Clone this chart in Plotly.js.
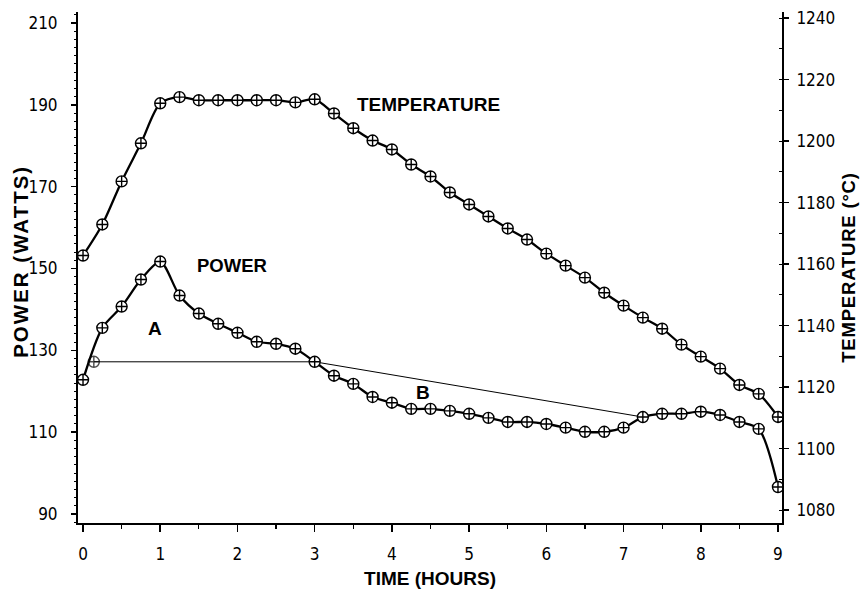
<!DOCTYPE html>
<html>
<head>
<meta charset="utf-8">
<script src="https://cdn.plot.ly/plotly-3.0.1.min.js"></script>
<style>
html,body{margin:0;padding:0;background:#fff;}
g.annotation[data-index="4"] text{letter-spacing:2px;}
.g-y2title text{letter-spacing:0.8px;}
</style>
</head>
<body>
<div id="chart" style="width:861px;height:591px;"></div>
<script>
// Time (hours), every quarter hour
const time = [0,0.25,0.5,0.75,1,1.25,1.5,1.75,2,2.25,2.5,2.75,3,3.25,3.5,3.75,4,4.25,4.5,4.75,5,5.25,5.5,5.75,6,6.25,6.5,6.75,7,7.25,7.5,7.75,8,8.25,8.5,8.75,9];
// Power (watts), left axis
const power = [122.8,135.5,140.7,147.3,151.7,143.4,139.0,136.5,134.3,132.1,131.6,130.4,127.2,123.8,121.8,118.6,117.2,115.7,115.7,115.2,114.5,113.5,112.5,112.5,112.0,111.1,110.1,110.1,111.1,113.7,114.5,114.5,115.0,114.2,112.5,110.8,96.6];
// Temperature (°C), right axis
const temperature = [1162.8,1172.9,1186.9,1199.3,1212.3,1214.3,1213.3,1213.3,1213.3,1213.3,1213.3,1212.6,1213.6,1209.0,1204.2,1200.2,1197.3,1192.4,1188.5,1183.3,1179.4,1175.5,1171.6,1168.0,1163.4,1159.5,1155.6,1150.7,1146.5,1142.6,1139.0,1133.8,1129.9,1126.0,1120.7,1117.8,1110.3];
// Baseline separating areas A and B
const baseTime = [0.14, 3.0, 7.25];
const basePower = [127.2, 127.2, 113.7];
// Tick labels
const powerTicks = [90,110,130,150,170,190,210];
const tempTicks = [1080,1100,1120,1140,1160,1180,1200,1220,1240];
const timeTicks = [0,1,2,3,4,5,6,7,8,9];

const mk = {symbol:'circle-cross', size:11, color:'white', line:{color:'black', width:1.4}};
const tickFont = {family:'"Liberation Sans Narrow","DejaVu Sans Condensed","Liberation Sans",sans-serif', size:17, color:'#000'};
const boldFam = '"Liberation Sans",Arial,sans-serif';
const boldFont = {family:boldFam, size:19, color:'#000', weight:'bold'};

const traces = [
  {x: baseTime, y: basePower, xaxis:'x', yaxis:'y', mode:'lines+markers', line:{color:'black', width:1},
   marker:{symbol:'circle-cross', size:[11,0,0], color:'white', line:{color:'black', width:1.4}}, hoverinfo:'skip'},
  {x: time, y: power, xaxis:'x', yaxis:'y', mode:'lines+markers', line:{color:'black', width:2.3, shape:'spline', smoothing:0.8}, marker:mk, name:'POWER'},
  {x: time, y: temperature, xaxis:'x', yaxis:'y2', mode:'lines+markers', line:{color:'black', width:2.3, shape:'spline', smoothing:0.8}, marker:mk, name:'TEMPERATURE'}
];

const layout = {
  width:861, height:591,
  margin:{l:78, r:79, t:12, b:68, pad:0},
  paper_bgcolor:'white', plot_bgcolor:'white',
  showlegend:false,
  xaxis:{
    range:[-0.065, 9.052], tickvals: timeTicks, ticktext: timeTicks.map(String),
    ticks:'outside', ticklen:7, tickwidth:1.5, tickcolor:'black',
    minor:{dtick:0.5, ticks:'outside', ticklen:4, tickwidth:1.2, tickcolor:'black'},
    showline:true, linecolor:'black', linewidth:2, mirror:false,
    showgrid:false, zeroline:false, tickfont:tickFont, ticklabelstandoff:8,
    title:{text:'TIME (HOURS)', font:boldFont, standoff:8}
  },
  yaxis:{
    range:[87.8, 212.7], tickvals: powerTicks, ticktext: powerTicks.map(String),
    ticks:'outside', ticklen:5, tickwidth:1.5, tickcolor:'black',
    minor:{dtick:2, ticks:'outside', ticklen:2, tickwidth:1, tickcolor:'black'},
    showline:true, linecolor:'black', linewidth:2,
    showgrid:false, zeroline:false, tickfont:tickFont, ticklabelstandoff:10
  },
  yaxis2:{
    overlaying:'y', side:'right', anchor:'x',
    range:[1075.8, 1242], tickvals: tempTicks, ticktext: tempTicks.map(String),
    ticks:'outside', ticklen:5, tickwidth:1.5, tickcolor:'black',
    minor:{dtick:10, ticks:'inside', ticklen:3, tickwidth:1, tickcolor:'black'},
    showline:true, linecolor:'black', linewidth:2,
    showgrid:false, zeroline:false, tickfont:tickFont, ticklabelstandoff:4,
    title:{text:'TEMPERATURE (°C)', font:{family:boldFam, size:18.5, color:'#000', weight:'bold'}, standoff:8}
  },
  annotations:[
    {x:4.48, y:1212.0, xref:'x', yref:'y2', text:'TEMPERATURE', showarrow:false, font:boldFont, xanchor:'center', yanchor:'middle'},
    {x:1.93, y:150.8, xref:'x', yref:'y', text:'POWER', showarrow:false, font:{family:boldFam, size:18.5, color:'#000', weight:'bold'}, xanchor:'center', yanchor:'middle'},
    {x:0.93, y:135.3, xref:'x', yref:'y', text:'A', showarrow:false, font:boldFont, xanchor:'center', yanchor:'middle'},
    {x:4.4, y:119.8, xref:'x', yref:'y', text:'B', showarrow:false, font:boldFont, xanchor:'center', yanchor:'middle'},
    {x:-0.081, y:0.513, xref:'paper', yref:'paper', text:'POWER (WATTS)', textangle:-90, showarrow:false,
     font:{family:boldFam, size:20.5, color:'#000', weight:'bold'}, xanchor:'center', yanchor:'middle'}
  ]
};

Plotly.newPlot('chart', traces, layout, {displayModeBar:false, staticPlot:true});
</script>
</body>
</html>
